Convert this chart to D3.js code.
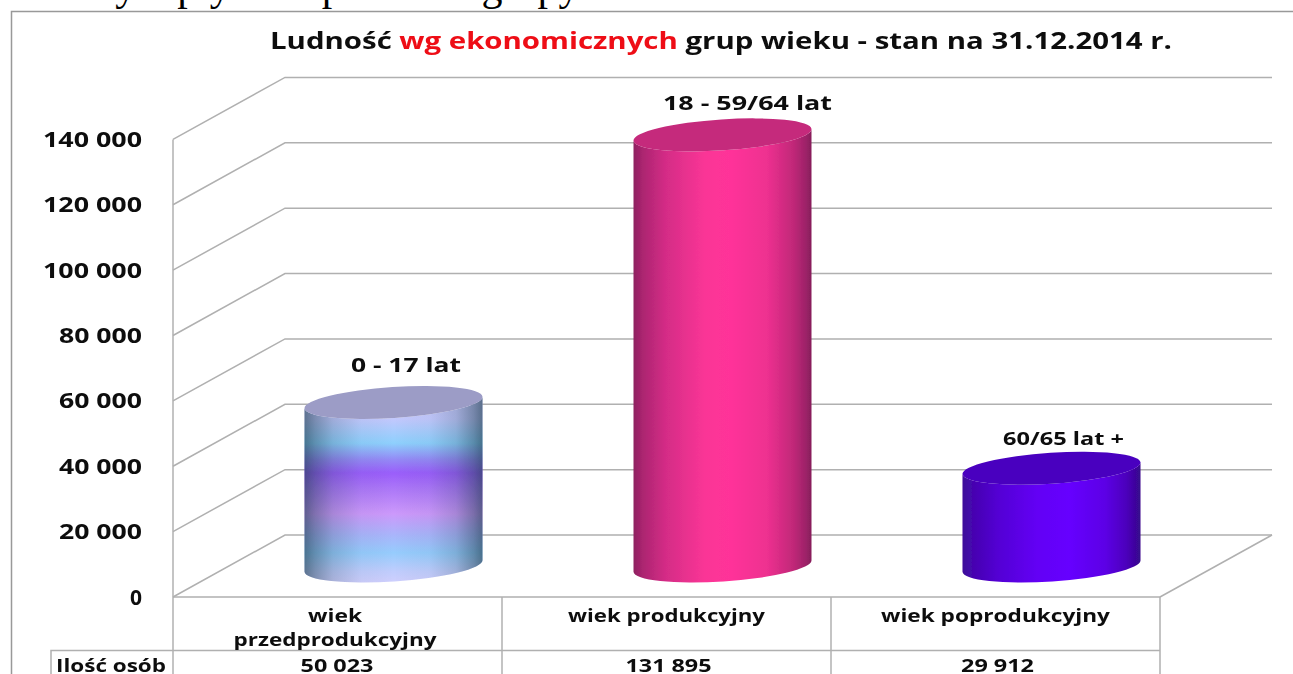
<!DOCTYPE html>
<html><head><meta charset="utf-8">
<script src="https://cdn.jsdelivr.net/npm/d3@7"></script>
<style>html,body{margin:0;background:#fff;overflow:hidden}svg{display:block}
text{font-family:"Open Sans",sans-serif;font-weight:700;fill:#111}</style></head><body>
<div id="c"></div>
<script>
const categories=["wiek przedprodukcyjny","wiek produkcyjny","wiek poprodukcyjny"];
const categoryLines=[["wiek","przedprodukcyjny"],["wiek produkcyjny"],["wiek poprodukcyjny"]];
const values=[50023,131895,29912];
const valueLabels=["50 023","131 895","29 912"];
const barLabels=["0 - 17 lat","18 - 59/64 lat","60/65 lat +"];
const ticks=[0,20000,40000,60000,80000,100000,120000,140000];
const rowHeader="Ilość osób";
const titleParts=[["Ludność ","#111"],["wg ekonomicznych","#ee0a14"],[" grup wieku - stan na 31.12.2014 r.","#111"]];
const clippedLine="mocny wpływ na powstałe grupy.";

const W=1293,H=674,depthX=112,depthY=62,rx=89,ry=15.5,tilt=5.8;
const svg=d3.select("#c").append("svg").attr("width",W).attr("height",H);
const defs=svg.append("defs");
defs.append("filter").attr("id","soft").append("feGaussianBlur").attr("stdDeviation",0.5);

const y=d3.scaleLinear().domain([0,140000]).range([597,139.4]);
const x=d3.scaleBand().domain(categories).range([173,1160]);
const line="#b0b0b0";
const fmt=v=>d3.format(",")(v).replace(/,/g," ");
const stretch=(sel,w)=>sel.attr("textLength",w).attr("lengthAdjust","spacingAndGlyphs");

svg.append("text").attr("x",22).attr("y",0).text(clippedLine)
 .style("font-family","'Liberation Serif',serif").style("font-weight",400).style("font-size","42px").style("fill","#000");
svg.append("path").attr("d",`M11.5,${H}V11.5H${W}`).attr("fill","none").attr("stroke","#999").attr("stroke-width",1.5);

const t=svg.append("text").attr("x",270).attr("y",49).attr("xml:space","preserve")
 .style("font-size","24px").style("white-space","pre").attr("filter","url(#soft)");
stretch(t,902);
t.selectAll("tspan").data(titleParts).join("tspan").text(d=>d[0]).style("fill",d=>d[1]);

const g=svg.append("g").attr("fill","none").attr("stroke",line).attr("stroke-width",1.5).attr("filter","url(#soft)");
g.selectAll(".grid").data(ticks).join("path").attr("class","grid")
 .attr("d",d=>`M173,${y(d)}L${173+depthX},${y(d)-depthY}H${1160+depthX}`);
g.append("path").attr("d",`M173,${y(140000)}V${H}`);
g.append("path").attr("d",`M173,${y(0)}H1160V${H}`);
g.append("path").attr("d",`M1160,${y(0)}L${1160+depthX},${y(0)-depthY}`);
g.selectAll(".sep").data(categories.slice(1)).join("path").attr("class","sep")
 .attr("d",d=>`M${x(d)},${y(0)}V${H}`);
g.append("path").attr("d",`M51,${H}V650.5H1160`);

svg.selectAll(".tick").data(ticks).join("text").attr("class","tick")
 .attr("x",142).attr("y",d=>y(d)+7.5).attr("text-anchor","end")
 .attr("filter","url(#soft)").style("font-size","21px").text(fmt)
 .each(function(d){ if(d>0) stretch(d3.select(this),d>=100000?99:83); });

function lin(id,stops,dir){
 const gr=defs.append("linearGradient").attr("id",id);
 if(dir==="v") gr.attr("x1",0).attr("x2",0).attr("y1",0).attr("y2",1);
 gr.selectAll("stop").data(stops).join("stop").attr("offset",d=>d[0]).attr("stop-color",d=>d[1]).attr("stop-opacity",d=>d[2]===undefined?1:d[2]);
}
lin("rainbow",[[0,"#c4c4f6"],[.12,"#c2c8fd"],[.25,"#8ed0fd"],[.34,"#9488f6"],[.41,"#9a5efb"],[.5,"#ad78f8"],[.63,"#cc99fb"],[.74,"#aab4fb"],[.84,"#96ccfd"],[.94,"#c0cdfd"],[1,"#cfcffd"]],"v");
lin("shade",[[0,"#183848",.6],[.06,"#183848",.42],[.16,"#183848",.2],[.32,"#183848",.04],[.5,"#000",0],[.7,"#183848",.04],[.85,"#183848",.2],[.95,"#183848",.45],[1,"#183848",.62]]);
lin("pink",[[0,"#8e2060"],[.05,"#ab2570"],[.18,"#d42c86"],[.4,"#fa3596"],[.55,"#ff3399"],[.75,"#ee3090"],[.9,"#c02878"],[.97,"#9c2268"],[1,"#861e5a"]]);
lin("violet",[[0,"#3d0a99"],[.06,"#4606b0"],[.2,"#5300d4"],[.42,"#6300f5"],[.6,"#6600ff"],[.8,"#5c00e6"],[.92,"#4c02bc"],[1,"#35088a"]]);
const tops=["#9c9cc6","#c52a7c","#4a03bf"];
const bodies=["rainbow","pink","violet"];

const bars=svg.append("g").selectAll("g").data(categories).join("g").attr("filter","url(#soft)");
bars.each(function(c,i){
 const s=d3.select(this), cx=x(c)+x.bandwidth()/2+depthX/2;
 const yTop=y(values[i])-depthY/2, yBot=y(0)-depthY/2, rot=-Math.atan2(tilt,rx)*180/Math.PI;
 const rr=Math.hypot(rx,tilt);
 const arc=(sweep,px,py)=>`A${rr},${ry} ${rot} 0 ${sweep} ${px},${py}`;
 const d=`M${cx-rx},${yTop+tilt}L${cx-rx},${yBot+tilt}${arc(0,cx+rx,yBot-tilt)}L${cx+rx},${yTop-tilt}${arc(1,cx-rx,yTop+tilt)}Z`;
 s.append("path").attr("d",d).attr("fill",`url(#${bodies[i]})`);
 if(i===0) s.append("path").attr("d",d).attr("fill","url(#shade)");
 s.append("ellipse").attr("rx",rr).attr("ry",ry).attr("fill",tops[i])
  .attr("transform",`translate(${cx},${yTop}) rotate(${rot})`);
});

const labelX=[406,747.5,1063.5], labelY=[372,110,445], labelW=[110,169,121], labelS=[20,20,18];
svg.selectAll(".bl").data(barLabels).join("text").attr("class","bl")
 .attr("x",(d,i)=>labelX[i]).attr("y",(d,i)=>labelY[i]).attr("text-anchor","middle")
 .attr("textLength",(d,i)=>labelW[i]).attr("lengthAdjust","spacingAndGlyphs")
 .attr("filter","url(#soft)").style("font-size",(d,i)=>labelS[i]+"px").text(d=>d);

const catW=[[54,203],[197],[229]], catC=[335,666.5,995.5];
svg.selectAll(".cat").data(categories).join("g").attr("class","cat").each(function(c,i){
 d3.select(this).selectAll("text").data(categoryLines[i]).join("text")
  .attr("x",catC[i]).attr("y",(d,j)=>622+j*23.5).attr("text-anchor","middle")
  .attr("textLength",(d,j)=>catW[i][j]).attr("lengthAdjust","spacingAndGlyphs")
  .attr("filter","url(#soft)").style("font-size","18.5px").text(d=>d);
});
stretch(svg.append("text").attr("x",56).attr("y",671.5).attr("filter","url(#soft)").style("font-size","18px").text(rowHeader),110);
const valW=[73,86,73];
svg.selectAll(".val").data(valueLabels).join("text").attr("class","val")
 .attr("x",(d,i)=>catC[i]+2).attr("y",672).attr("text-anchor","middle")
 .attr("textLength",(d,i)=>valW[i]).attr("lengthAdjust","spacingAndGlyphs")
 .attr("filter","url(#soft)").style("font-size","18.5px").text(d=>d);
</script></body></html>
